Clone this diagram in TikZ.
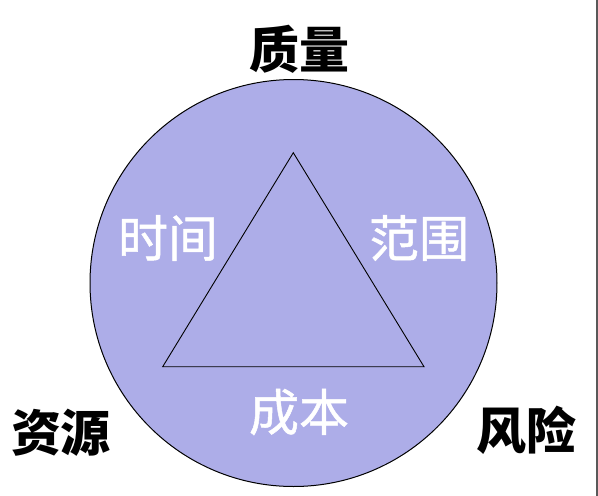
\documentclass[tikz,border=0pt]{standalone}
\usepackage{fontspec}
\usepackage{tikz}
\usetikzlibrary{positioning}
\newfontfamily\cjk{Noto Sans CJK SC}
\newfontfamily\cjkmid[FakeBold=1]{Noto Sans CJK SC}
\definecolor{discfill}{RGB}{173,173,232}

\begin{document}
\begin{tikzpicture}[x=1pt, y=-1pt,
    outer/.style={font=\cjk\bfseries\fontsize{50}{50}\selectfont, text=black, inner sep=0pt},
    inner/.style={font=\cjkmid\fontsize{50}{50}\selectfont, text=white, inner sep=0pt}]
            \useasboundingbox (0,0) rectangle (598,496);
            \draw[fill=discfill, line width=1pt] (293.5,283) circle (203.5);
            \draw[gray!70!black, line width=1.2pt] (597,0) -- (597,496);

            \coordinate (T) at (293.3,152.7);
            \coordinate (L) at (162.7,366.7);
            \coordinate (R) at (424,366.7);
            \draw[line width=0.9pt, line join=miter] (T) -- (L) -- (R) -- cycle;

            \node[outer] (Q) at (299,49) {质量};
            \node[outer] (S) at (61,433) {资源};
            \node[outer] (F) at (526,430) {风险};

            \node[inner] (Ti) at (168,238) {时间};
            \node[inner] (Fw) at (419,238) {范围};
            \node[inner] (C) at (299,412) {成本};
        \end{tikzpicture}
\end{document}
